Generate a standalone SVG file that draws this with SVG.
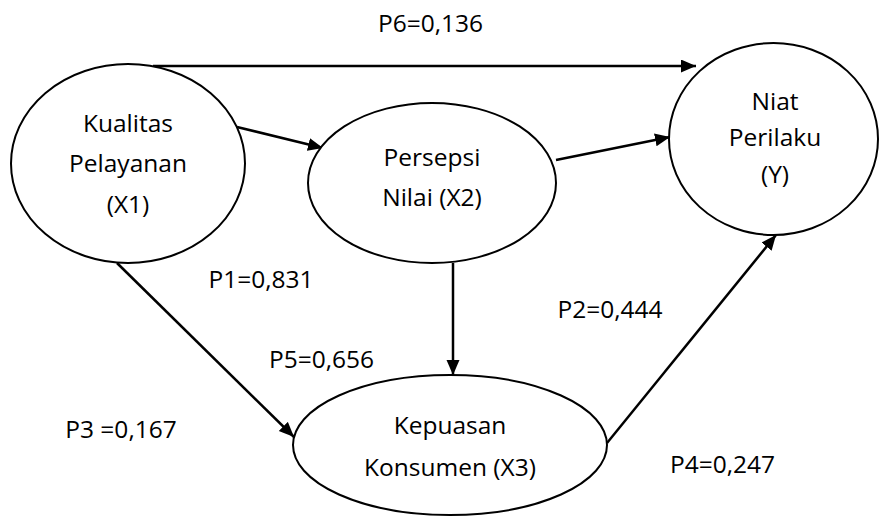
<svg xmlns="http://www.w3.org/2000/svg" width="879" height="516" viewBox="0 0 879 516">
<style>
.node{fill:#fff;stroke:#000;stroke-width:2}
.t{font-family:"Open Sans","Noto Sans",sans-serif;font-size:24.5px;fill:#000;text-anchor:middle}
.c{stroke:#000;stroke-width:2.5;fill:none;marker-end:url(#ah)}
</style>
<defs>
<marker id="ah" markerUnits="userSpaceOnUse" markerWidth="16" markerHeight="14" refX="15" refY="6.5" orient="auto">
<path d="M0,0 L15,6.5 L0,13 z" fill="#000"/>
</marker>
</defs>
<rect width="879" height="516" fill="#fff"/>
<g id="connectors">
<line class="c" x1="153" y1="66" x2="696" y2="66"/>
<line class="c" x1="237" y1="127" x2="323" y2="148"/>
<line class="c" x1="556" y1="160" x2="670" y2="137"/>
<line class="c" x1="453" y1="263" x2="453" y2="375"/>
<line class="c" x1="117" y1="263" x2="294" y2="437"/>
<line class="c" x1="607" y1="443" x2="776" y2="235"/>
</g>
<g id="x1">
<ellipse class="node" cx="128" cy="163.5" rx="117" ry="99.5"/>
<text class="t" x="128" y="132">Kualitas</text>
<text class="t" x="128" y="172">Pelayanan</text>
<text class="t" x="128" y="213">(X1)</text>
</g>
<g id="x2">
<ellipse class="node" cx="432" cy="183" rx="124" ry="80"/>
<text class="t" x="432" y="166">Persepsi</text>
<text class="t" x="432" y="206">Nilai (X2)</text>
</g>
<g id="y">
<ellipse class="node" cx="773.5" cy="139" rx="104.5" ry="96"/>
<text class="t" x="775" y="110">Niat</text>
<text class="t" x="775" y="146">Perilaku</text>
<text class="t" x="775" y="183">(Y)</text>
</g>
<g id="x3">
<ellipse class="node" cx="450" cy="445" rx="157" ry="70"/>
<text class="t" x="450" y="434">Kepuasan</text>
<text class="t" x="450" y="476">Konsumen (X3)</text>
</g>
<g id="labels">
<text class="t" x="430.5" y="32">P6=0,136</text>
<text class="t" x="261" y="288">P1=0,831</text>
<text class="t" x="321.5" y="368">P5=0,656</text>
<text class="t" x="610" y="318">P2=0,444</text>
<text class="t" x="121" y="438">P3 =0,167</text>
<text class="t" x="722.5" y="473">P4=0,247</text>
</g>
</svg>
